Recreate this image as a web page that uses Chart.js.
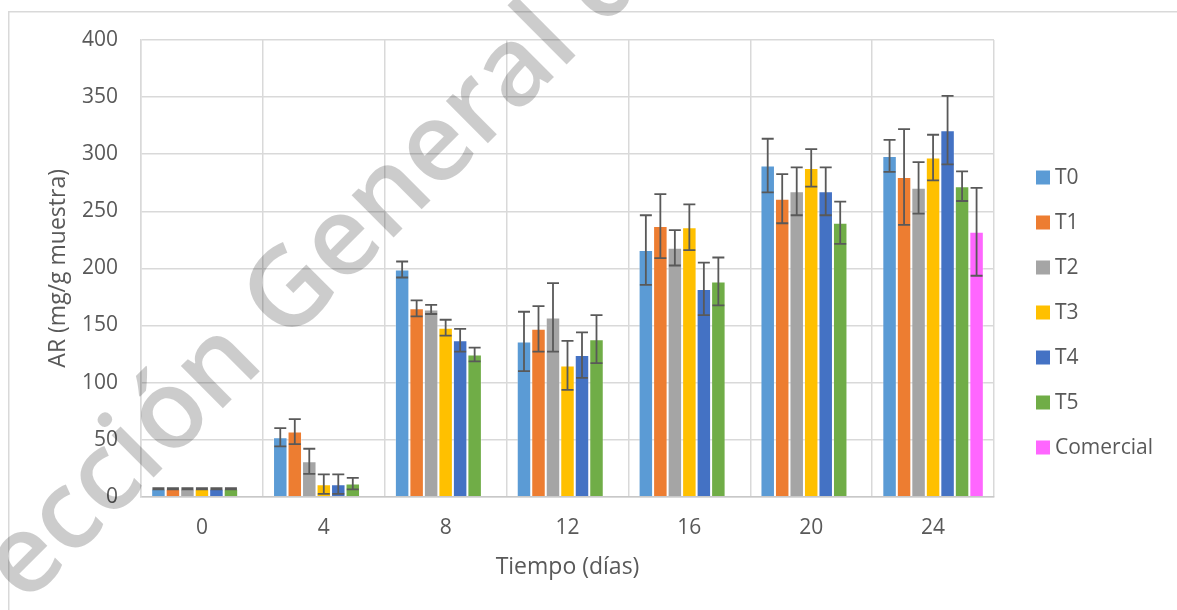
<!DOCTYPE html>
<html>
<head>
<meta charset="utf-8">
<script src="https://cdn.jsdelivr.net/npm/chart.js@4/dist/chart.umd.min.js"></script>
<style>
  html, body { margin: 0; padding: 0; background: #ffffff; }
  canvas { display: block; }
</style>
</head>
<body>
<canvas id="chart" width="1177" height="610"></canvas>
<script>
// Categories: sampling day
const dias = ['0', '4', '8', '12', '16', '20', '24'];

// Mean AR per treatment (mg/g muestra)
const T0 = [7, 52, 199, 136, 216, 290, 298.5];
const T1 = [7, 57, 165, 147, 237, 261, 280];
const T2 = [7, 31, 164, 157, 218, 267.5, 270.5];
const T3 = [7, 11, 148, 115, 236, 288, 297];
const T4 = [7, 11, 137, 124, 182, 267.5, 321];
const T5 = [7, 11.5, 124.5, 138, 188.5, 240, 272];
const Comercial = [null, null, null, null, null, null, 232];

// Standard deviation for each mean
const T0err = [0.5, 8, 7, 26, 30.5, 23.5, 14];
const T1err = [0.5, 11, 7, 20, 28, 21.5, 42];
const T2err = [0.5, 11, 4, 30, 15.5, 21, 22.5];
const T3err = [0.5, 8.5, 7, 21.5, 20, 16.5, 20];
const T4err = [0.5, 8.5, 10, 20, 23, 21, 30];
const T5err = [0.5, 5, 6, 21, 21, 18.5, 13];
const ComercialErr = [null, null, null, null, null, null, 38.5];

// Axis ticks
const yTicks = [0, 50, 100, 150, 200, 250, 300, 350, 400];

const seriesNames = ['T0', 'T1', 'T2', 'T3', 'T4', 'T5', 'Comercial'];
const seriesValues = [T0, T1, T2, T3, T4, T5, Comercial];
const seriesErrors = [T0err, T1err, T2err, T3err, T4err, T5err, ComercialErr];
const palette = ['#5B9BD5', '#ED7D31', '#A5A5A5', '#FFC000', '#4472C4', '#70AD47', '#FF66FF'];

const FONT = "'Open Sans', 'Liberation Sans', sans-serif";
const TEXT = '#595959';
const GRID = '#d9d9d9';
const TICK_SIZE = 21;
const TITLE_SIZE = 23;

// White page plus the thin frame around the chart object
const frame = {
  id: 'frame',
  beforeDraw(chart) {
    const { ctx, width, height } = chart;
    ctx.save();
    ctx.fillStyle = '#ffffff';
    ctx.fillRect(0, 0, width, height);
    ctx.strokeStyle = GRID;
    ctx.lineWidth = 1.5;
    ctx.strokeRect(8.75, 11.75, width + 100, height + 100);
    ctx.restore();
  }
};

// Vertical error bars with caps, mean ± SD
const errorBars = {
  id: 'errorBars',
  afterDatasetsDraw(chart) {
    const { ctx } = chart;
    const y = chart.scales.y;
    ctx.save();
    ctx.strokeStyle = '#595959';
    ctx.lineWidth = 1.8;
    chart.data.datasets.forEach((ds, i) => {
      const meta = chart.getDatasetMeta(i);
      ds.errors.forEach((e, j) => {
        const v = ds.data[j];
        if (v == null || e == null) return;
        const x = meta.data[j].x;
        const top = y.getPixelForValue(v + e);
        const bot = y.getPixelForValue(v - e);
        const cap = 6;
        ctx.beginPath();
        ctx.moveTo(x, top); ctx.lineTo(x, bot);
        ctx.moveTo(x - cap, top); ctx.lineTo(x + cap, top);
        ctx.moveTo(x - cap, bot); ctx.lineTo(x + cap, bot);
        ctx.stroke();
      });
    });
    ctx.restore();
  }
};

// Legend column to the right of the plot
const sideLegend = {
  id: 'sideLegend',
  afterDraw(chart) {
    const { ctx, chartArea } = chart;
    const sets = chart.data.datasets;
    const x0 = chartArea.right + 42;
    const step = 45;
    const mid = 312.5;
    ctx.save();
    ctx.font = TICK_SIZE + 'px ' + FONT;
    ctx.textBaseline = 'middle';
    ctx.textAlign = 'left';
    sets.forEach((ds, i) => {
      const cy = mid + (i - (sets.length - 1) / 2) * step;
      ctx.fillStyle = ds.backgroundColor;
      ctx.fillRect(x0, cy - 7, 14, 14);
      ctx.fillStyle = TEXT;
      ctx.fillText(ds.label, x0 + 19, cy + 1);
    });
    ctx.restore();
  }
};

// Diagonal repository watermark laid over the page
const watermark = {
  id: 'watermark',
  afterDraw(chart) {
    const { ctx } = chart;
    ctx.save();
    ctx.translate(286, 345);
    ctx.rotate(-Math.PI / 4);
    ctx.font = '600 110px ' + FONT;
    ctx.fillStyle = 'rgba(0, 0, 0, 0.2)';
    ctx.textBaseline = 'alphabetic';
    const lead = ctx.measureText('Dirección ').width;
    ctx.fillText('Dirección General de Bibliotecas', -lead, 0);
    ctx.restore();
  }
};

const datasets = seriesNames.map((name, i) => ({
  label: name,
  data: seriesValues[i],
  errors: seriesErrors[i],
  backgroundColor: palette[i],
  borderColor: 'rgba(255,255,255,0.35)',
  borderWidth: 1,
  categoryPercentage: 0.833,
  barPercentage: 1.0
}));

new Chart(document.getElementById('chart'), {
  type: 'bar',
  data: { labels: dias, datasets },
  options: {
    responsive: false,
    animation: false,
    layout: { padding: { left: 10, top: 40, right: 183, bottom: 20 } },
    plugins: {
      legend: { display: false },
      tooltip: { enabled: false }
    },
    scales: {
      x: {
        grid: { color: GRID, lineWidth: 1.5, drawTicks: false, offset: true },
        border: { color: '#c8c8c8', width: 1.5 },
        ticks: { color: TEXT, font: { family: FONT, size: TICK_SIZE }, padding: 18.5 },
        title: {
          display: true, text: 'Tiempo (días)', color: TEXT,
          font: { family: FONT, size: TITLE_SIZE }, padding: { top: 0, bottom: 9 }
        },
        afterFit(scale) { scale.height = 93.3; }
      },
      y: {
        min: 0, max: 400,
        afterBuildTicks(scale) { scale.ticks = yTicks.map(v => ({ value: v })); },
        grid: { color: GRID, lineWidth: 1.5, drawTicks: false },
        border: { color: GRID, width: 1.5 },
        ticks: { color: TEXT, font: { family: FONT, size: TICK_SIZE }, padding: 23 },
        title: {
          display: true, text: 'AR (mg/g muestra)', color: TEXT,
          font: { family: FONT, size: TITLE_SIZE }, padding: { top: 34.5, bottom: 0 }
        },
        afterFit(scale) { scale.width = 131; }
      }
    }
  },
  plugins: [frame, errorBars, sideLegend, watermark]
});
</script>
</body>
</html>
